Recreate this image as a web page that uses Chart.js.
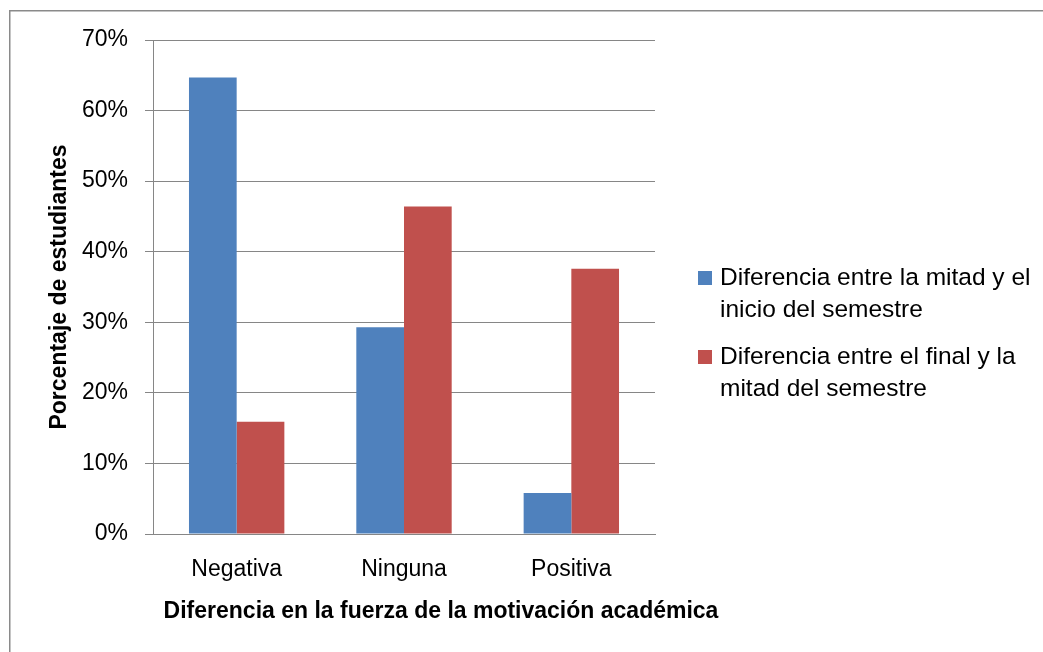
<!DOCTYPE html>
<html>
<head>
<meta charset="utf-8">
<script src="https://cdn.jsdelivr.net/npm/chart.js@4/dist/chart.umd.min.js"></script>
<style>
  html, body { margin: 0; padding: 0; background: #fff; }
  #wrap { width: 1043px; height: 652px; }
</style>
</head>
<body>
<div id="wrap"><canvas id="chart" width="1043" height="652"></canvas></div>
<script>
// datos del gráfico
const categorias = ['Negativa', 'Ninguna', 'Positiva'];
const inicioMitad = [64.7, 29.3, 5.8];
const mitadFinal = [15.9, 46.4, 37.6];
const nombreSerie1 = ['Diferencia entre la mitad y el', 'inicio del semestre'];
const nombreSerie2 = ['Diferencia entre el final y la', 'mitad del semestre'];
const tituloX = 'Diferencia en la fuerza de la motivación académica';
const tituloY = 'Porcentaje de estudiantes';

const FUENTE = '"Liberation Sans", Arial, sans-serif';
const GRIS = '#868686';

// marco exterior (solo arriba e izquierda, como en la imagen)
const marco = {
  id: 'marco',
  beforeDraw(chart) {
    const c = chart.ctx;
    c.save();
    c.strokeStyle = '#8a8a8a';
    c.lineWidth = 1.5;
    c.beginPath();
    c.moveTo(9.75, chart.height);
    c.lineTo(9.75, 10.75);
    c.lineTo(chart.width, 10.75);
    c.stroke();
    c.restore();
  }
};

// leyenda a la derecha con texto en dos líneas
const leyenda = {
  id: 'leyenda',
  afterDraw(chart) {
    const c = chart.ctx;
    c.save();
    c.font = '24.5px ' + FUENTE;
    c.textBaseline = 'middle';
    c.fillStyle = '#000';
    const items = [
      { color: chart.data.datasets[0].backgroundColor, lines: nombreSerie1, y: 278 },
      { color: chart.data.datasets[1].backgroundColor, lines: nombreSerie2, y: 357 }
    ];
    items.forEach(it => {
      c.fillStyle = it.color;
      c.fillRect(698, it.y - 7, 14, 14);
      c.fillStyle = '#000';
      it.lines.forEach((t, i) => c.fillText(t, 720, it.y + i * 32));
    });
    c.restore();
  }
};

// título del eje x (desplazado hacia la derecha como en el original)
const tituloEjeX = {
  id: 'tituloEjeX',
  afterDraw(chart) {
    const c = chart.ctx;
    c.save();
    c.font = 'bold 23px ' + FUENTE;
    c.textAlign = 'center';
    c.textBaseline = 'middle';
    c.fillStyle = '#000';
    c.fillText(tituloX, 441, 612);
    c.restore();
  }
};

new Chart(document.getElementById('chart'), {
  type: 'bar',
  data: {
    labels: categorias,
    datasets: [
      {
        label: nombreSerie1.join(' '),
        data: inicioMitad,
        backgroundColor: '#4F81BD',
        borderWidth: 0
      },
      {
        label: nombreSerie2.join(' '),
        data: mitadFinal,
        backgroundColor: '#C0504D',
        borderWidth: 0
      }
    ]
  },
  options: {
    responsive: false,
    animation: false,
    layout: { padding: { top: 40, right: 388, left: 0, bottom: 0 } },
    datasets: { bar: { categoryPercentage: 0.57, barPercentage: 1 } },
    scales: {
      x: {
        afterFit: s => { s.height = 118; },
        grid: { display: false, drawTicks: false },
        border: { display: true, color: GRIS, width: 1 },
        ticks: { color: '#000', padding: 22, font: { family: FUENTE, size: 23 } }
      },
      y: {
        min: 0,
        max: 70,
        afterFit: s => { s.width = 153; },
        grid: { color: GRIS, lineWidth: 1, tickLength: 8 },
        border: { display: true, color: GRIS, width: 1 },
        ticks: {
          stepSize: 10,
          padding: 17,
          color: '#000',
          font: { family: FUENTE, size: 23 },
          callback: v => v + '%'
        },
        title: {
          display: true,
          text: tituloY,
          color: '#000',
          padding: { top: 46, bottom: 0 },
          font: { family: FUENTE, size: 23, weight: 'bold' }
        }
      }
    },
    plugins: {
      legend: { display: false },
      tooltip: { enabled: false }
    }
  },
  plugins: [marco, leyenda, tituloEjeX]
});
</script>
</body>
</html>
